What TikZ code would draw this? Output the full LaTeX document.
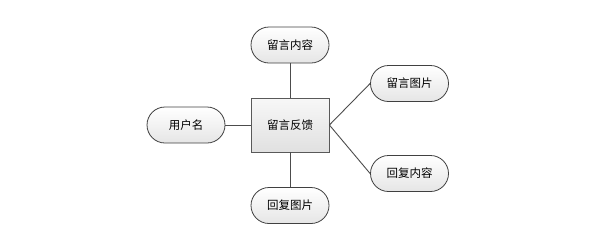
\documentclass[tikz,border=0pt]{standalone}
\usepackage{fontspec}
\newfontfamily\cjk{Noto Sans CJK SC}
\usetikzlibrary{shapes.misc}
\begin{document}
\begin{tikzpicture}[x=1pt,y=-1pt,
  pill/.style={rounded rectangle, draw=black!75, line width=0.8pt, top color=white, bottom color=black!10,
    minimum width=78pt, minimum height=36pt, inner sep=0pt, font=\cjk\fontsize{11.5}{13}\selectfont},
  centre/.style={rectangle, draw=black!65, line width=0.8pt, top color=black!3, bottom color=black!12,
    minimum width=78pt, minimum height=54pt, inner sep=0pt, font=\cjk\fontsize{11.5}{13}\selectfont},
  link/.style={draw=black!70, line width=0.9pt}]
\useasboundingbox (0,0) rectangle (600,250);
\node[centre] (c) at (290,125) {留言反馈};
\node[pill] (t) at (290,45) {留言内容};
\node[pill] (b) at (290,205.5) {回复图片};
\node[pill] (l) at (186,125) {用户名};
\node[pill] (r1) at (409.5,83.5) {留言图片};
\node[pill] (r2) at (409.5,173.5) {回复内容};
\draw[link] (c.north) -- (t.south);
\draw[link] (c.south) -- (b.north);
\draw[link] (c.west) -- (l.east);
\draw[link] (c.east) -- (r1.west);
\draw[link] (c.east) -- (r2.west);
\end{tikzpicture}
\end{document}
